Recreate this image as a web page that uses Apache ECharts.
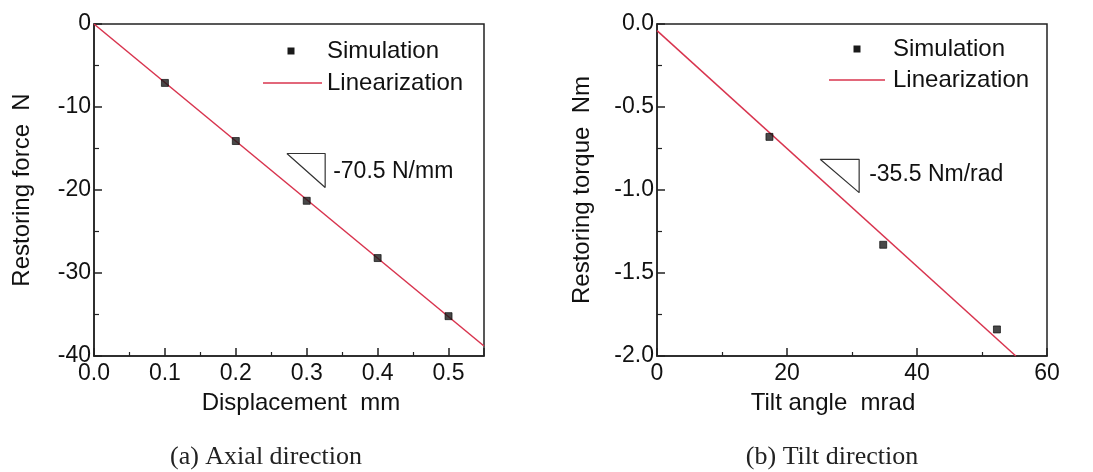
<!DOCTYPE html>
<html>
<head>
<meta charset="utf-8">
<script src="https://cdn.jsdelivr.net/npm/echarts@6/dist/echarts.min.js"></script>
<style>html,body{margin:0;padding:0;background:#fff;}#c{width:1093px;height:472px;}</style>
</head>
<body>
<div id="c"></div>
<script>
// (a) Axial direction
const axialDisp = [0.1, 0.2, 0.3, 0.4, 0.5];
const axialForce = [-7.1, -14.1, -21.3, -28.2, -35.2];
const axialFitX = [0, 0.55];
const axialFitY = [0, -38.8];
const axialTriX = [0.272, 0.326, 0.326, 0.272];
const axialTriY = [-15.6, -15.6, -19.7, -15.6];
// (b) Tilt direction
const tiltAngle = [17.3, 34.8, 52.3];
const tiltTorque = [-0.68, -1.33, -1.84];
const tiltFitX = [0, 55.2];
const tiltFitY = [-0.04, -2.0];
const tiltTriX = [25.1, 31.1, 31.1, 25.1];
const tiltTriY = [-0.815, -0.815, -1.016, -0.815];

const seriesNames = ['Simulation', 'Linearization'];
const xTitles = ['Displacement  mm', 'Tilt angle  mrad'];
const yTitles = ['Restoring force  N', 'Restoring torque  Nm'];
const captions = ['(a) Axial direction', '(b) Tilt direction'];
const slopeLabels = ['-70.5 N/mm', '-35.5 Nm/rad'];

const SANS = '"Liberation Sans", Arial, sans-serif';
const SERIF = '"Liberation Serif", "Times New Roman", serif';
const FS = 23;
const AX = '#222';
const RED = '#d8344e';

const zip = (a, b) => a.map((v, i) => [v, b[i]]);

function xAxisCfg(idx, min, max, interval, dec) {
  return {
    type: 'value', gridIndex: idx, min, max, interval,
    axisLine: { show: true, onZero: false, lineStyle: { color: AX, width: 1.5 } },
    axisTick: { show: true, inside: true, length: 8, lineStyle: { color: AX, width: 1.5 } },
    minorTick: { show: true, splitNumber: 2, length: 4, lineStyle: { color: AX, width: 1.2 } },
    splitLine: { show: false },
    axisLabel: { color: '#111', fontFamily: SANS, fontSize: FS, margin: 6,
      showMaxLabel: Math.abs(max / interval - Math.round(max / interval)) < 1e-9,
      formatter: v => v.toFixed(dec) }
  };
}
function yAxisCfg(idx, min, max, interval, dec) {
  return {
    type: 'value', gridIndex: idx, min, max, interval,
    axisLine: { show: true, onZero: false, lineStyle: { color: AX, width: 1.5 } },
    axisTick: { show: true, inside: true, length: 8, lineStyle: { color: AX, width: 1.5 } },
    minorTick: { show: true, splitNumber: 2, length: 5, lineStyle: { color: AX, width: 1.2 } },
    splitLine: { show: false },
    axisLabel: { color: '#111', fontFamily: SANS, fontSize: FS, margin: 3,
      formatter: v => v.toFixed(dec) }
  };
}

const grids = [
  { left: 94, top: 24, width: 390, height: 332 },
  { left: 657, top: 24, width: 390, height: 332 }
];

const option = {
  animation: false,
  backgroundColor: '#fff',
  grid: grids.map(g => Object.assign({ show: true, borderColor: AX, borderWidth: 1.5, backgroundColor: 'transparent' }, g)),
  xAxis: [xAxisCfg(0, 0, 0.55, 0.1, 1), xAxisCfg(1, 0, 60, 20, 0)],
  yAxis: [yAxisCfg(0, -40, 0, 10, 0), yAxisCfg(1, -2, 0, 0.5, 1)],
  series: [
    { name: seriesNames[1], type: 'line', xAxisIndex: 0, yAxisIndex: 0, data: zip(axialFitX, axialFitY),
      showSymbol: false, lineStyle: { color: RED, width: 1.5 }, z: 2, silent: true },
    { name: seriesNames[0], type: 'scatter', xAxisIndex: 0, yAxisIndex: 0, data: zip(axialDisp, axialForce),
      symbol: 'rect', symbolSize: 7, itemStyle: { color: '#1a1a1a', borderColor: '#000', borderWidth: 0.8 }, z: 3 },
    { name: 'slopeA', type: 'line', xAxisIndex: 0, yAxisIndex: 0, data: zip(axialTriX, axialTriY),
      showSymbol: false, lineStyle: { color: '#333', width: 1.2 }, silent: true },
    { name: seriesNames[1], type: 'line', xAxisIndex: 1, yAxisIndex: 1, data: zip(tiltFitX, tiltFitY),
      showSymbol: false, lineStyle: { color: RED, width: 1.5 }, z: 2, silent: true },
    { name: seriesNames[0], type: 'scatter', xAxisIndex: 1, yAxisIndex: 1, data: zip(tiltAngle, tiltTorque),
      symbol: 'rect', symbolSize: 7, itemStyle: { color: '#1a1a1a', borderColor: '#000', borderWidth: 0.8 }, z: 3 },
    { name: 'slopeB', type: 'line', xAxisIndex: 1, yAxisIndex: 1, data: zip(tiltTriX, tiltTriY),
      showSymbol: false, lineStyle: { color: '#333', width: 1.2 }, silent: true }
  ]
};

const chart = echarts.init(document.getElementById('c'), null, { renderer: 'canvas' });
chart.setOption(option);

// Legends, titles, captions, slope labels
const legends = [
  { mx: 291, my: 51, lx1: 263, lx2: 322, ly: 83, tx: 327 },
  { mx: 857, my: 49, lx1: 829, lx2: 885, ly: 80, tx: 893 }
];
const xTitlePos = [[301, 403], [833, 403]];
const yTitlePos = [[22, 190], [582, 190]];
const captionPos = [[266, 457], [832, 457]];
const LFS = 24;
const g = [];
legends.forEach(L => {
  g.push({ type: 'rect', shape: { x: L.mx - 3.5, y: L.my - 3.5, width: 7, height: 7 }, style: { fill: '#1a1a1a' } });
  g.push({ type: 'text', x: L.tx, y: L.my, style: { text: seriesNames[0], font: LFS + 'px ' + SANS, fill: '#111', verticalAlign: 'middle', align: 'left' } });
  g.push({ type: 'line', shape: { x1: L.lx1, y1: L.ly, x2: L.lx2, y2: L.ly }, style: { stroke: RED, lineWidth: 1.5 } });
  g.push({ type: 'text', x: L.tx, y: L.ly, style: { text: seriesNames[1], font: LFS + 'px ' + SANS, fill: '#111', verticalAlign: 'middle', align: 'left' } });
});
[0, 1].forEach(i => {
  g.push({ type: 'text', x: xTitlePos[i][0], y: xTitlePos[i][1], style: { text: xTitles[i], font: LFS + 'px ' + SANS, fill: '#111', align: 'center', verticalAlign: 'middle' } });
  g.push({ type: 'text', x: yTitlePos[i][0], y: yTitlePos[i][1], rotation: Math.PI / 2, style: { text: yTitles[i], font: LFS + 'px ' + SANS, fill: '#111', align: 'center', verticalAlign: 'middle' } });
  g.push({ type: 'text', x: captionPos[i][0], y: captionPos[i][1], style: { text: captions[i], font: '26px ' + SERIF, fill: '#222', align: 'center', verticalAlign: 'middle' } });
});
// slope labels anchored to data coordinates next to triangles
const pA = chart.convertToPixel({ xAxisIndex: 0, yAxisIndex: 0 }, [axialTriX[1], (axialTriY[0] + axialTriY[2]) / 2]);
const pB = chart.convertToPixel({ xAxisIndex: 1, yAxisIndex: 1 }, [tiltTriX[1], (tiltTriY[0] + tiltTriY[2]) / 2]);
g.push({ type: 'text', x: pA[0] + 8, y: pA[1] + 1, style: { text: slopeLabels[0], font: FS + 'px ' + SANS, fill: '#111', verticalAlign: 'middle' } });
g.push({ type: 'text', x: pB[0] + 10, y: pB[1] - 1, style: { text: slopeLabels[1], font: FS + 'px ' + SANS, fill: '#111', verticalAlign: 'middle' } });
chart.setOption({ graphic: g });
</script>
</body>
</html>
